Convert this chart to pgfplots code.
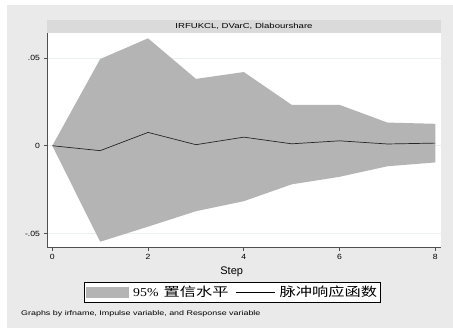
\documentclass[border=0pt]{standalone}
\usepackage{fontspec}
\setmainfont{Liberation Sans}[FakeStretch=1.33]
\newfontfamily\tickfont{Liberation Sans}[FakeStretch=1.15]
\newfontfamily\labelfont{Liberation Sans}
\newfontfamily\legendserif{Liberation Serif}[FakeStretch=1.15]
\newfontfamily\cjk{Noto Sans CJK SC}[FakeStretch=1.3]
\usepackage{pgfplots}
\pgfplotsset{compat=1.18}
\usepackage{pgfplotstable}

\definecolor{bgouter}{RGB}{234,234,234}
\definecolor{strip}{RGB}{218,218,218}
\definecolor{band}{RGB}{180,180,180}
\definecolor{gridc}{RGB}{232,240,242}
\definecolor{axisline}{RGB}{80,80,80}

% impulse response and 95% band by step
\pgfplotstableread{
step irf lower upper
0  0.0000  0.0000  0.0000
1 -0.0028 -0.0547  0.0494
2  0.0076 -0.0461  0.0612
3  0.0006 -0.0373  0.0381
4  0.0049 -0.0316  0.0420
5  0.0011 -0.0220  0.0233
6  0.0028 -0.0177  0.0233
7  0.0010 -0.0117  0.0132
8  0.0015 -0.0095  0.0125
}\irftable

\begin{document}
\begin{tikzpicture}
\path[use as bounding box] (0pt,0pt) rectangle (453pt,328pt);
\fill[bgouter] (7pt,0pt) rectangle (453pt,323pt);
\fill[strip] (47pt,295pt) rectangle (441pt,308pt);
\node[font=\fontsize{7.2}{8}\selectfont, anchor=center, inner sep=0pt] at (244pt,301.5pt) {IRFUKCL, DVarC, Dlabourshare};
\begin{axis}[
  at={(47pt,80.5pt)}, anchor=south west,
  scale only axis, width=394pt, height=214.5pt,
  xmin=-0.1107, xmax=8.119, ymin=-0.05798, ymax=0.06425,
  axis x line*=bottom, axis y line*=left,
  axis line style={-, draw=axisline, line width=0.8pt},
  tick style={draw=axisline, line width=0.8pt},
  tick align=outside, major tick length=3.5pt,
  scaled y ticks=false,
  xtick={0,2,4,6,8}, xticklabels={0,2,4,6,8},
  ytick={-0.05,0,0.05}, yticklabels={-.05,0,.05},
  ticklabel style={font=\tickfont\fontsize{7.5}{9}\selectfont},
  ymajorgrids, grid style={draw=gridc, line width=0.6pt},
  axis background/.style={fill=white},
  xlabel={Step},
  xlabel style={font=\labelfont\fontsize{11}{12}\selectfont, at={(axis description cs:0.4688,-0.1142)}, anchor=center},
  legend columns=2,
  legend style={at={(0.4708,-0.2089)}, anchor=center, draw=black, line width=0.7pt,
    fill=white, inner xsep=1pt, inner ysep=1.5pt,
    nodes={inner sep=2pt},
    /tikz/every odd column/.append style={column sep=2.5pt},
    /tikz/every even column/.append style={column sep=5pt}},
]
% band: lower bound as base, band width stacked on top of it
\addplot[draw=none, mark=none, stack plots=y, forget plot] table[x=step,y=lower]{\irftable};
\addplot[fill=band, draw=none, mark=none, stack plots=y,
  legend image code/.code={\fill[band] (0pt,-5.5pt) rectangle (43pt,5.5pt);}]
  table[x=step, y expr=\thisrow{upper}-\thisrow{lower}]{\irftable} \closedcycle;
\addlegendentry{{\legendserif\fontsize{12}{14}\selectfont 95\%}\hspace{5pt}{\cjk\fontsize{12.5}{14}\selectfont 置信水平}}
\addplot[black!85, mark=none, line width=0.7pt, stack plots=false,
  legend image code/.code={\draw[black, line width=0.7pt] (0pt,0pt) -- (39pt,0pt);}]
  table[x=step,y=irf]{\irftable};
\addlegendentry{{\cjk\fontsize{12.5}{14}\selectfont 脉冲响应函数}}
\end{axis}
\node[font=\fontsize{6.7}{8}\selectfont, anchor=west, inner sep=0pt] at (21pt,14pt) {Graphs by irfname, Impulse variable, and Response variable};
\end{tikzpicture}
\end{document}
